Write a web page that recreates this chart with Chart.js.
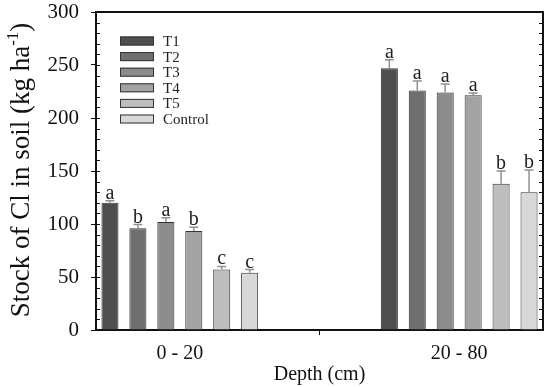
<!DOCTYPE html>
<html>
<head>
<meta charset="utf-8">
<script src="https://cdn.jsdelivr.net/npm/chart.js@4.4.0/dist/chart.umd.min.js"></script>
<style>
html, body { margin: 0; padding: 0; background: #fff; }
#wrap { width: 550px; height: 387px; }
</style>
</head>
<body>
<div id="wrap"><canvas id="chart"></canvas></div>
<script>
// depth classes on the x axis
const depths = ['0 - 20', '20 - 80'];
const treatments = ['T1', 'T2', 'T3', 'T4', 'T5', 'Control'];

// stock of Cl (kg/ha), one value per depth
const t1Values = [120, 247];
const t2Values = [96, 226];
const t3Values = [102, 224];
const t4Values = [93.5, 221.5];
const t5Values = [57, 138];
const controlValues = [54, 130];

// upper error bars
const t1Err = [2, 8];
const t2Err = [3.5, 9];
const t3Err = [4, 8];
const t4Err = [3.5, 2];
const t5Err = [3, 12];
const controlErr = [3, 21];

// significance letters
const t1Letters = ['a', 'a'];
const t2Letters = ['b', 'a'];
const t3Letters = ['a', 'a'];
const t4Letters = ['b', 'a'];
const t5Letters = ['c', 'b'];
const controlLetters = ['c', 'b'];

const yTickValues = [0, 50, 100, 150, 200, 250, 300];

const colors = ['#4f4f4f', '#6f6f6f', '#8c8c8c', '#a3a3a3', '#bebebe', '#d8d8d8'];
const serif = '"Liberation Serif", "Times New Roman", serif';

const series = [t1Values, t2Values, t3Values, t4Values, t5Values, controlValues];
const errs = [t1Err, t2Err, t3Err, t4Err, t5Err, controlErr];
const letters = [t1Letters, t2Letters, t3Letters, t4Letters, t5Letters, controlLetters];

const datasets = treatments.map((name, k) => ({
    label: name,
    data: series[k].map((v, i) => ({ x: i, y: v })),
    errors: errs[k],
    letters: letters[k],
    backgroundColor: colors[k],
    borderColor: '#333',
    borderWidth: 1,
    categoryPercentage: 0.6,
    barPercentage: 0.61
}));

const decor = {
    id: 'decor',
    afterDatasetsDraw(chart) {
        const { ctx, chartArea: a, scales: { y } } = chart;
        ctx.save();
        // error bars and letters
        chart.data.datasets.forEach((ds, di) => {
            const meta = chart.getDatasetMeta(di);
            meta.data.forEach((bar, i) => {
                const top = y.getPixelForValue(ds.data[i].y + ds.errors[i]);
                ctx.strokeStyle = '#909090';
                ctx.lineWidth = 1.5;
                ctx.beginPath();
                ctx.moveTo(bar.x, bar.y);
                ctx.lineTo(bar.x, top);
                ctx.moveTo(bar.x - 4.5, top);
                ctx.lineTo(bar.x + 4.5, top);
                ctx.stroke();
                ctx.fillStyle = '#222';
                ctx.font = '20px ' + serif;
                ctx.textAlign = 'center';
                ctx.textBaseline = 'alphabetic';
                ctx.fillText(ds.letters[i], bar.x, top - 2);
            });
        });

        // frame top + right
        ctx.strokeStyle = '#111';
        ctx.lineWidth = 2;
        ctx.beginPath();
        ctx.moveTo(a.left - 1, a.top);
        ctx.lineTo(a.right, a.top);
        ctx.lineTo(a.right, a.bottom);
        ctx.stroke();

        // inner minor ticks left and right
        ctx.lineWidth = 1;
        ctx.beginPath();
        for (let v = 10; v < 300; v += 10) {
            const py = Math.round(y.getPixelForValue(v)) + 0.5;
            ctx.moveTo(a.left, py);
            ctx.lineTo(a.left + 4, py);
            ctx.moveTo(a.right, py);
            ctx.lineTo(a.right - 4, py);
        }
        ctx.stroke();

        // legend
        ctx.font = '15px ' + serif;
        ctx.textAlign = 'left';
        ctx.textBaseline = 'middle';
        chart.data.datasets.forEach((ds, k) => {
            const cy = a.top + 29 + k * 15.6;
            ctx.fillStyle = ds.backgroundColor;
            ctx.fillRect(120, cy - 4.5, 34, 9);
            ctx.strokeStyle = '#333';
            ctx.strokeRect(120.5, cy - 4, 33, 8);
            ctx.fillStyle = '#222';
            ctx.fillText(ds.label, 163, cy + 1);
        });

        // y title with superscript
        const cy = (a.top + a.bottom) / 2;
        ctx.translate(29, cy - 1);
        ctx.rotate(-Math.PI / 2);
        ctx.fillStyle = '#111';
        ctx.textBaseline = 'alphabetic';
        const main = 'Stock of Cl in soil (kg ha';
        ctx.font = '27px ' + serif;
        const w1 = ctx.measureText(main).width;
        const w3 = ctx.measureText(')').width;
        ctx.font = '17px ' + serif;
        const w2 = ctx.measureText('-1').width;
        let x0 = -(w1 + w2 + w3) / 2;
        ctx.font = '27px ' + serif;
        ctx.fillText(main, x0, 0);
        ctx.font = '17px ' + serif;
        ctx.fillText('-1', x0 + w1, -11);
        ctx.font = '27px ' + serif;
        ctx.fillText(')', x0 + w1 + w2, 0);
        ctx.restore();
    }
};

new Chart(document.getElementById('chart'), {
    type: 'bar',
    data: { datasets },
    options: {
        responsive: true,
        maintainAspectRatio: false,
        animation: false,
        layout: { padding: { left: 0, right: 7, top: 12, bottom: 0 } },
        plugins: {
            legend: { display: false },
            tooltip: { enabled: false }
        },
        scales: {
            x: {
                type: 'linear',
                offset: false,
                min: -0.3,
                max: 1.3,
                afterBuildTicks: s => { s.ticks = depths.map((d, i) => ({ value: i })); },
                afterFit: s => { s.height = 57; s.paddingLeft = 0; s.paddingRight = 0; },
                ticks: {
                    callback: v => depths[v] ?? '',
                    font: { family: serif, size: 20 },
                    color: '#111',
                    padding: 7,
                    maxRotation: 0
                },
                grid: { display: true, drawOnChartArea: false, tickLength: 5, color: '#111' },
                border: { display: true, width: 2, color: '#111' },
                title: {
                    display: true,
                    text: 'Depth (cm)',
                    font: { family: serif, size: 20 },
                    color: '#111',
                    padding: { top: 1, bottom: 0 }
                }
            },
            y: {
                min: 0,
                max: 300,
                afterBuildTicks: s => { s.ticks = yTickValues.map(v => ({ value: v })); },
                afterFit: s => { s.width = 96; s.paddingTop = 0; s.paddingBottom = 0; },
                ticks: {
                    font: { family: serif, size: 21 },
                    color: '#111',
                    padding: 12
                },
                grid: { display: true, drawOnChartArea: false, tickLength: 5, color: '#111' },
                border: { display: true, width: 2, color: '#111' }
            }
        }
    },
    plugins: [decor]
});
</script>
</body>
</html>
